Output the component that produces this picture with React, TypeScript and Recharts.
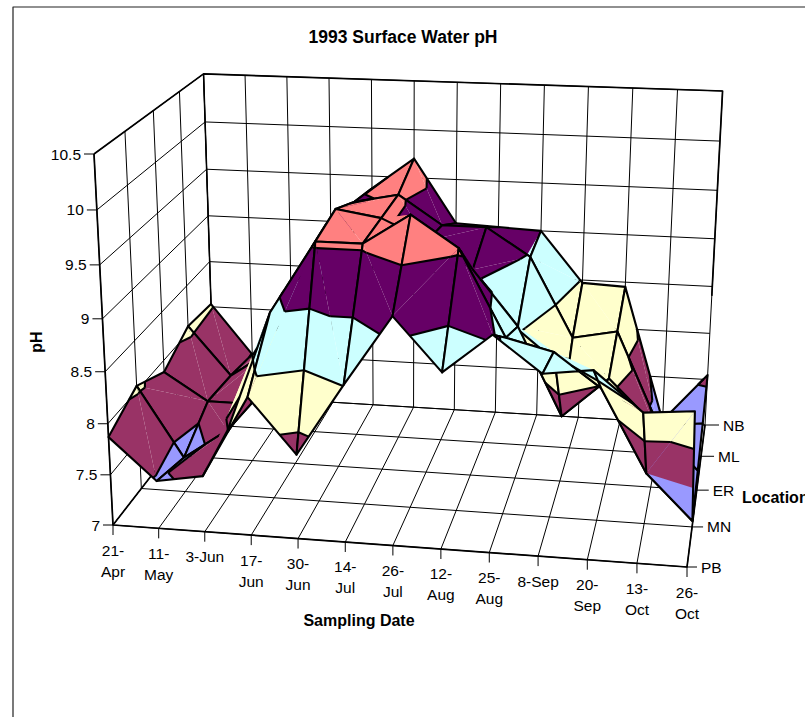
import React from "react";
import { ComposedChart, Scatter, XAxis, YAxis } from "recharts";

const WIDTH = 805;
const HEIGHT = 717;

const dateLabels = ["21-Apr", "11-May", "3-Jun", "17-Jun", "30-Jun", "14-Jul", "26-Jul", "12-Aug", "25-Aug", "8-Sep", "20-Sep", "13-Oct", "26-Oct"];
const oneLineDates = ["3-Jun", "8-Sep"];
const locations = ["PB", "MN", "ER", "ML", "NB"];
const phTicks = [7, 7.5, 8, 8.5, 9, 9.5, 10, 10.5];

// pH per sampling date, one list per location
const phPB = [7.87, 7.47, 7.55, 8.34, 7.82, 8.51, 9.17, 8.68, 9.05, 8.72, 8.78, 8.42, 8.46];
const phMN = [8.05, 7.35, 7.66, 8.85, 9.55, 9.55, 9.84, 9.55, 8.73, 8.62, 8.3, 7.5, 7.06];
const phER = [7.88, 7.6, 7.6, 8.6, 9.62, 9.55, 9.35, 9.09, 8.55, 7.67, 8.08, 7.65, 7.2];
const phML = [8.07, 7.56, 7.86, 8.4, 9.46, 9.55, 9.26, 9.26, 8.98, 8.17, 8.26, 7.3, 7.35];
const phNB = [8.03, 7.49, 7.8, 8.3, 9.37, 9.7, 9.04, 9.02, 9, 8.47, 8.45, 7.02, 7.55];
const surface = [phPB, phMN, phER, phML, phNB];

const bandColors = ["#9999FF", "#993366", "#FFFFCC", "#CCFFFF", "#660066", "#FF8080", "#C0C0C0"];

// corners of the 3D box on the page, used to set up the perspective
const O = [113, 525];
const X = [687, 567];
const Y = [214, 395];
const Z = [94, 154];
const XY = [705, 425];
const XYZ = [722, 91];

function solveWeights() {
  const a = X[0] - XY[0], b = Y[0] - XY[0], c = X[1] - XY[1], d = Y[1] - XY[1];
  const e = O[0] - XY[0], f = O[1] - XY[1];
  const det = a * d - b * c;
  const wx = (e * d - b * f) / det;
  const wy = (a * f - e * c) / det;
  const wz = (2 * O[1] - wx * X[1] - wy * Y[1] + XYZ[1] * (wx + wy - 2)) / (Z[1] - XYZ[1]);
  return [wx, wy, wz];
}
const [wx, wy, wz] = solveWeights();

function project(u: number, v: number, w: number) {
  const den = 1 + u * (wx - 1) + v * (wy - 1) + w * (wz - 1);
  const at = (k: number) => (O[k] + u * (wx * X[k] - O[k]) + v * (wy * Y[k] - O[k]) + w * (wz * Z[k] - O[k])) / den;
  return { x: at(0), y: at(1) };
}

const lastDate = dateLabels.length - 1;
const lastLoc = locations.length - 1;
const PH_MIN = phTicks[0];
const PH_MAX = phTicks[phTicks.length - 1];
const pos = (i: number, j: number, ph: number) => project(i / lastDate, j / lastLoc, (ph - PH_MIN) / (PH_MAX - PH_MIN));

type V = { i: number; j: number; ph: number };
const mix = (a: V, b: V, level: number): V => {
  const t = (level - a.ph) / (b.ph - a.ph);
  return { i: a.i + (b.i - a.i) * t, j: a.j + (b.j - a.j) * t, ph: level };
};
const toPage = (p: V) => pos(p.i, p.j, p.ph);

function clip(poly: V[], level: number, keepAbove: boolean) {
  const out: V[] = [];
  poly.forEach((a, k) => {
    const b = poly[(k + 1) % poly.length];
    const aIn = keepAbove ? a.ph >= level : a.ph <= level;
    const bIn = keepAbove ? b.ph >= level : b.ph <= level;
    if (aIn) out.push(a);
    if (aIn !== bIn) out.push(mix(a, b, level));
  });
  return out;
}

type Piece = { kind: "fill" | "line" | "edge"; color?: string; points: { x: number; y: number }[] };

function buildSurface() {
  const pieces: Piece[] = [];
  for (let j = lastLoc - 1; j >= 0; j--) {
    for (let i = 0; i < lastDate; i++) {
      const a = { i, j, ph: surface[j][i] };
      const b = { i: i + 1, j, ph: surface[j][i + 1] };
      const c = { i: i + 1, j: j + 1, ph: surface[j + 1][i + 1] };
      const d = { i, j: j + 1, ph: surface[j + 1][i] };
      const tris = a.ph + c.ph >= b.ph + d.ph ? [[a, b, c], [a, c, d]] : [[a, b, d], [b, c, d]];
      tris.forEach((tri) => {
        phTicks.slice(0, -1).forEach((lo, k) => {
          const poly = clip(clip(tri, lo, true), phTicks[k + 1], false);
          if (poly.length >= 3) pieces.push({ kind: "fill", color: bandColors[k], points: poly.map(toPage) });
        });
      });
      tris.forEach((tri) => {
        phTicks.forEach((level) => {
          const cut: V[] = [];
          tri.forEach((p, k) => {
            const q = tri[(k + 1) % 3];
            if ((p.ph - level) * (q.ph - level) < 0) cut.push(mix(p, q, level));
          });
          if (cut.length === 2) pieces.push({ kind: "line", points: cut.map(toPage) });
        });
      });
      pieces.push({ kind: "edge", points: [a, b, c, d].map(toPage) });
    }
  }
  return pieces;
}

const pieces = buildSurface();

type Seg = { points: { x: number; y: number }[]; width: number };
function buildBox() {
  const segs: Seg[] = [];
  const u = (i: number) => i / lastDate;
  const v = (j: number) => j / lastLoc;
  const w = (ph: number) => (ph - PH_MIN) / (PH_MAX - PH_MIN);
  dateLabels.forEach((_, i) => {
    segs.push({ points: [project(u(i), 0, 0), project(u(i), 1, 0), project(u(i), 1, 1)], width: 1 });
  });
  locations.forEach((_, j) => {
    segs.push({ points: [project(1, v(j), 0), project(0, v(j), 0), project(0, v(j), 1)], width: 1 });
  });
  phTicks.forEach((ph) => {
    segs.push({ points: [project(0, 0, w(ph)), project(0, 1, w(ph)), project(1, 1, w(ph))], width: 1 });
  });
  segs.push({ points: [project(0, 0, 1), project(0, 0, 0), project(1, 0, 0), project(1, 1, 0)], width: 1.7 });
  segs.push({ points: [project(0, 0, 0), project(0, 1, 0)], width: 1.7 });
  segs.push({ points: [project(0, 0, 1), project(0, 1, 1), project(1, 1, 1), project(1, 1, 0.4)], width: 1.7 });
  segs.push({ points: [project(0, 1, 0), project(0, 1, 1)], width: 1.5 });
  return segs;
}

const TICK = 10;
type Lab = { x: number; y: number; text: string };
const valueLabels: Lab[] = [];
const dateLines: Lab[] = [];
const locLabels: Lab[] = [];
const tickSegs: Seg[] = [];
phTicks.forEach((ph) => {
  const p = pos(0, 0, ph);
  tickSegs.push({ points: [{ x: p.x - TICK, y: p.y }, p], width: 1 });
  valueLabels.push({ x: p.x - TICK - 3, y: p.y, text: String(ph) });
});
dateLabels.forEach((d, i) => {
  const p = pos(i, 0, PH_MIN);
  tickSegs.push({ points: [p, { x: p.x, y: p.y + TICK }], width: 1 });
  if (oneLineDates.includes(d)) {
    dateLines.push({ x: p.x, y: p.y + 25, text: d });
  } else {
    const [day, month] = d.split("-");
    dateLines.push({ x: p.x, y: p.y + 25, text: day + "-" });
    dateLines.push({ x: p.x, y: p.y + 46, text: month });
  }
});
locations.forEach((name, j) => {
  const p = pos(lastDate, j, PH_MIN);
  tickSegs.push({ points: [p, { x: p.x + TICK + j, y: p.y }], width: 1 });
  locLabels.push({ x: p.x + TICK + j + 4, y: p.y, text: name });
});

const FONT = "'Liberation Sans', Arial, sans-serif";
const NoDot = () => null;

function textShape(anchor: string, size: number, weight = "normal", rotate = 0) {
  return (props: any) => (
    <text
      x={props.cx}
      y={props.cy}
      textAnchor={anchor}
      dominantBaseline="central"
      fontFamily={FONT}
      fontSize={size}
      fontWeight={weight}
      fill="#000"
      transform={rotate ? `rotate(${rotate} ${props.cx} ${props.cy})` : undefined}
    >
      {props.payload.text}
    </text>
  );
}

function segSeries(seg: Seg, key: string, color = "#000") {
  return (
    <Scatter
      key={key}
      data={seg.points}
      shape={NoDot}
      line={{ stroke: color, strokeWidth: seg.width, fill: "none", strokeLinejoin: "round" }}
      lineJointType="linear"
      isAnimationActive={false}
    />
  );
}

export default function App() {
  return (
    <div style={{ position: "absolute", left: 0, top: 0, width: WIDTH, height: HEIGHT, background: "#fff" }}>
      <ComposedChart width={WIDTH} height={HEIGHT} margin={{ top: 0, right: 0, bottom: 0, left: 0 }}>
        <XAxis type="number" dataKey="x" domain={[0, WIDTH]} hide allowDataOverflow />
        <YAxis type="number" dataKey="y" domain={[0, HEIGHT]} reversed hide allowDataOverflow width={0} />
        {segSeries({ points: [{ x: 13, y: HEIGHT }, { x: 13, y: 7 }, { x: WIDTH, y: 7 }], width: 1.2 }, "frame", "#222")}
        {buildBox().map((s, k) => segSeries(s, `box${k}`))}
        {tickSegs.map((s, k) => segSeries(s, `tick${k}`))}
        {pieces.map((p, k) =>
          p.kind === "fill" ? (
            <Scatter
              key={`p${k}`}
              data={p.points}
              shape={NoDot}
              line={{ fill: p.color, stroke: "none" }}
              lineJointType="linearClosed"
              isAnimationActive={false}
            />
          ) : p.kind === "line" ? (
            segSeries({ points: p.points, width: 2.1 }, `p${k}`)
          ) : (
            <Scatter
              key={`p${k}`}
              data={p.points}
              shape={NoDot}
              line={{ fill: "none", stroke: "#000", strokeWidth: 2.1, strokeLinejoin: "round" }}
              lineJointType="linearClosed"
              isAnimationActive={false}
            />
          )
        )}
        <Scatter data={valueLabels} shape={textShape("end", 15.5)} isAnimationActive={false} />
        <Scatter data={dateLines} shape={textShape("middle", 15.5)} isAnimationActive={false} />
        <Scatter data={locLabels} shape={textShape("start", 15.5)} isAnimationActive={false} />
        <Scatter data={[{ x: 403, y: 37, text: "1993 Surface Water pH" }]} shape={textShape("middle", 17.5, "bold")} isAnimationActive={false} />
        <Scatter data={[{ x: 359, y: 620, text: "Sampling Date" }]} shape={textShape("middle", 16, "bold")} isAnimationActive={false} />
        <Scatter data={[{ x: 742, y: 497, text: "Location" }]} shape={textShape("start", 16, "bold")} isAnimationActive={false} />
        <Scatter data={[{ x: 36, y: 342, text: "pH" }]} shape={textShape("middle", 16, "bold", -90)} isAnimationActive={false} />
      </ComposedChart>
    </div>
  );
}
